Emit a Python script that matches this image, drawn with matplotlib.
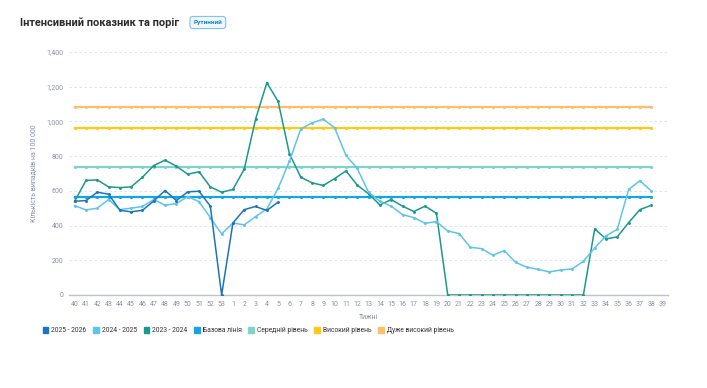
import numpy as np
import matplotlib
matplotlib.use('Agg')
from matplotlib import pyplot as plt
from matplotlib.patches import Patch
from matplotlib.ticker import FuncFormatter

plt.rcParams['font.family'] = ['Roboto', 'DejaVu Sans']

# weeks of the season (categorical)
weeks = [str(w) for w in list(range(40, 54)) + list(range(1, 40))]

s2025 = [540, 544, 592, 581, 488, 479, 488, 542, 602, 544, 594, 598, 512, 0,
         415, 492, 510, 487, 535]
s2024 = [515, 490, 500, 550, 492, 500, 510, 550, 517, 527, 567, 538, 446, 352,
         415, 404, 452, 496, 615, 771, 956, 992, 1013, 963, 804, 729, 592, 540,
         512, 463, 446, 413, 423, 369, 354, 275, 267, 229, 256, 188, 160, 148,
         133, 144, 150, 194, 271, 340, 379, 608, 658, 600]
s2023 = [540, 660, 663, 623, 619, 623, 679, 746, 777, 742, 696, 710, 623, 592,
         608, 725, 1012, 1223, 1115, 813, 679, 646, 631, 671, 715, 633, 583,
         519, 550, 512, 481, 512, 471, 0, 0, 0, 0, 0, 0, 0, 0, 0, 0, 0, 0, 0,
         381, 323, 335, 417, 492, 517]

baseline = 563
medium = 740
high = 963
very_high = 1083

series_names = ['2025 - 2026', '2024 - 2025', '2023 - 2024', 'Базова лінія',
                'Середній рівень', 'Високий рівень', 'Дуже високий рівень']
colors = ['#1b75bc', '#5ec4ea', '#1a9a8b', '#13a6e3', '#7fd3cb', '#ffc914', '#ffbe6a']


def main():
    fig = plt.figure(figsize=(7.07, 3.88), dpi=100)
    ax = fig.add_axes([0.0976, 0.2397, 0.8475, 0.6263])

    x_all = np.arange(len(weeks))
    thr = [(baseline, colors[3]), (medium, colors[4]), (high, colors[5]),
           (very_high, colors[6])]
    for val, c in thr[::-1]:
        ax.plot(x_all[:-1], [val] * (len(weeks) - 1), color=c, lw=1.6,
                marker='o', ms=1.3, zorder=2)

    for data, c in [(s2023, colors[2]), (s2024, colors[1]), (s2025, colors[0])]:
        x = np.arange(len(data))
        ax.plot(x, data, color=c, lw=1.1, marker='o', ms=1.1, zorder=3)

    ax.set_xlim(-0.5, len(weeks) - 0.5)
    ax.set_ylim(0, 1400)
    ax.set_xticks(x_all)
    ax.set_xticklabels(weeks)
    ax.set_yticks(np.arange(0, 1401, 200))
    ax.yaxis.set_major_formatter(FuncFormatter(lambda v, p: f'{int(v):,}'))
    ax.tick_params(axis='both', length=0, labelsize=5.0, colors='#8a8fa8', pad=4)
    ax.grid(axis='y', color='#dcdfe6', lw=0.6, ls=(0, (3, 3)))
    ax.set_axisbelow(True)
    for s in ['top', 'right', 'left']:
        ax.spines[s].set_visible(False)
    ax.spines['bottom'].set_color('#bfc2cc')
    ax.spines['bottom'].set_linewidth(1.0)

    ax.set_xlabel('Тижні', fontsize=5.0, color='#8a8fa8', labelpad=5)
    ax.set_ylabel('Кількість випадків на 100 000', fontsize=5.0, color='#8a8fa8',
                  labelpad=6)

    fig.text(0.028, 0.942, 'Інтенсивний показник та поріг', fontsize=7.9,
             fontweight='bold', color='#2b2b2b', va='center')
    fig.text(0.294, 0.942, 'Рутинний', fontsize=4.6, color='#1a7fc1',
             va='center', ha='center', fontweight='bold',
             bbox=dict(boxstyle='round,pad=0.55,rounding_size=0.5',
                       fc='#eef7fd', ec='#7cc3ee', lw=0.8))

    handles = [Patch(facecolor=c, edgecolor=c) for c in colors]
    fig.legend(handles, series_names, loc='center left',
               bbox_to_anchor=(0.052, 0.147), ncol=7, frameon=False,
               fontsize=4.9, handlelength=0.8, handleheight=0.8,
               handletextpad=0.45, columnspacing=1.0, labelcolor='#333333')

    fig.savefig('out.png', dpi=100)


main()
